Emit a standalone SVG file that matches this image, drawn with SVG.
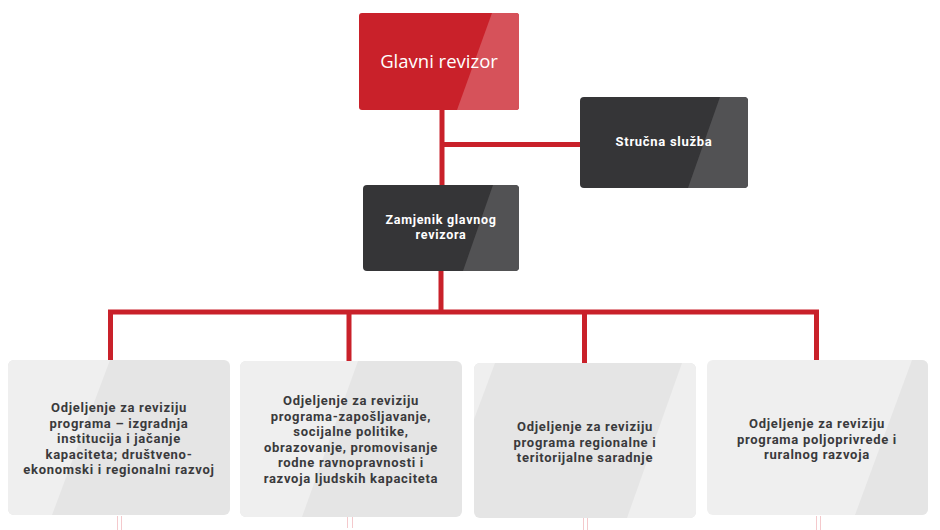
<svg xmlns="http://www.w3.org/2000/svg" width="940" height="530" viewBox="0 0 940 530">
<defs>
<clipPath id="c1"><rect x="359" y="13" width="160" height="97" rx="3"/></clipPath>
<clipPath id="c2"><rect x="580" y="97" width="168" height="91" rx="4"/></clipPath>
<clipPath id="c3"><rect x="363" y="185" width="156" height="86" rx="4"/></clipPath>
<clipPath id="c4"><rect x="8" y="360" width="222" height="155" rx="6"/></clipPath>
<clipPath id="c5"><rect x="240" y="361" width="222" height="156" rx="6"/></clipPath>
<clipPath id="c6"><rect x="474" y="363" width="222" height="155" rx="6"/></clipPath>
<clipPath id="c7"><rect x="707" y="360" width="221" height="155" rx="6"/></clipPath>
</defs>
<style>
.red{fill:#c9212a}
.redhi{fill:#d6525a}
.dark{fill:#353537}
.darkhi{fill:#525254}
.lg{fill:#e5e5e5}
.lgl{fill:#efefef}
.conn{stroke:#c9212a;stroke-width:5;fill:none;stroke-linejoin:miter}
.ghost{stroke:#f4c9cc;stroke-width:1;fill:none}
.tw{font-family:"Open Sans","Noto Sans","Liberation Sans",sans-serif;fill:#ffffff;text-anchor:middle}
.tz{font-family:Roboto,"Liberation Sans",sans-serif;font-weight:700;fill:#ffffff;text-anchor:middle;letter-spacing:0.7px}
.tb{font-family:Roboto,"Liberation Sans",sans-serif;font-weight:700;font-size:13px;fill:#3a3a3c;text-anchor:middle;letter-spacing:0.7px}
</style>
<g id="connectors">
<path class="conn" d="M442 110 V185"/>
<path class="conn" d="M442 144.5 H580"/>
<path class="conn" d="M441 271 V312"/>
<path class="conn" d="M110.5 360 V312 H816.5 V360"/>
<path class="conn" d="M349 312 V362"/>
<path class="conn" d="M584.5 312 V363"/>
<path class="ghost" d="M117.5 516 V530 M121.5 516 V530 M347.5 517 V528 M352.5 517 V528 M583.5 518 V530 M587.5 518 V530 M816.5 516 V530 M820.5 516 V530"/>
</g>
<g id="glavni-revizor">
<rect class="red" x="359" y="13" width="160" height="97" rx="3"/>
<polygon class="redhi" clip-path="url(#c1)" points="492,13 525,13 525,110 457,110"/>
<text class="tw" x="439" y="68" font-size="18.5">Glavni revizor</text>
</g>
<g id="strucna-sluzba">
<rect class="dark" x="580" y="97" width="168" height="91" rx="4"/>
<polygon class="darkhi" clip-path="url(#c2)" points="720,97 750,97 750,188 688,188"/>
<text class="tz" x="664" y="146" font-size="13">Stručna služba</text>
</g>
<g id="zamjenik">
<rect class="dark" x="363" y="185" width="156" height="86" rx="4"/>
<polygon class="darkhi" clip-path="url(#c3)" points="493,185 520,185 520,271 463,271"/>
<text class="tz" x="441" y="224" font-size="12.5">Zamjenik glavnog</text>
<text class="tz" x="441" y="239" font-size="12.5">revizora</text>
</g>
<g id="odjeljenje-1">
<rect class="lg" x="8" y="360" width="222" height="155" rx="6"/>
<polygon class="lgl" clip-path="url(#c4)" points="0,360 110,360 52,515 0,515"/>
<text class="tb" x="119" y="412">Odjeljenje za reviziju</text>
<text class="tb" x="119" y="427.5">programa – izgradnja</text>
<text class="tb" x="119" y="443">institucija i jačanje</text>
<text class="tb" x="119" y="458.5">kapaciteta; društveno-</text>
<text class="tb" x="119" y="474">ekonomski i regionalni razvoj</text>
</g>
<g id="odjeljenje-2">
<rect class="lg" x="240" y="361" width="222" height="156" rx="6"/>
<polygon class="lgl" clip-path="url(#c5)" points="230,361 358,361 302,517 230,517"/>
<text class="tb" x="351" y="405">Odjeljenje za reviziju</text>
<text class="tb" x="351" y="420.5">programa-zapošljavanje,</text>
<text class="tb" x="351" y="436">socijalne politike,</text>
<text class="tb" x="351" y="451.5">obrazovanje, promovisanje</text>
<text class="tb" x="351" y="467">rodne ravnopravnosti i</text>
<text class="tb" x="351" y="482.5">razvoja ljudskih kapaciteta</text>
</g>
<g id="odjeljenje-3">
<rect class="lg" x="474" y="363" width="222" height="155" rx="6"/>
<polygon class="lgl" clip-path="url(#c6)" points="470,363 495,363 470,430"/>
<polygon class="lgl" clip-path="url(#c6)" points="682,363 700,363 700,518 627,518"/>
<text class="tb" x="585" y="431">Odjeljenje za reviziju</text>
<text class="tb" x="585" y="446.5">programa regionalne i</text>
<text class="tb" x="585" y="462">teritorijalne saradnje</text>
</g>
<g id="odjeljenje-4">
<rect class="lgl" x="707" y="360" width="221" height="155" rx="6"/>
<polygon class="lg" clip-path="url(#c7)" points="912,360 930,360 930,515 855,515"/>
<text class="tb" x="817" y="428">Odjeljenje za reviziju</text>
<text class="tb" x="817" y="443.5">programa poljoprivrede i</text>
<text class="tb" x="817" y="459">ruralnog razvoja</text>
</g>
</svg>
